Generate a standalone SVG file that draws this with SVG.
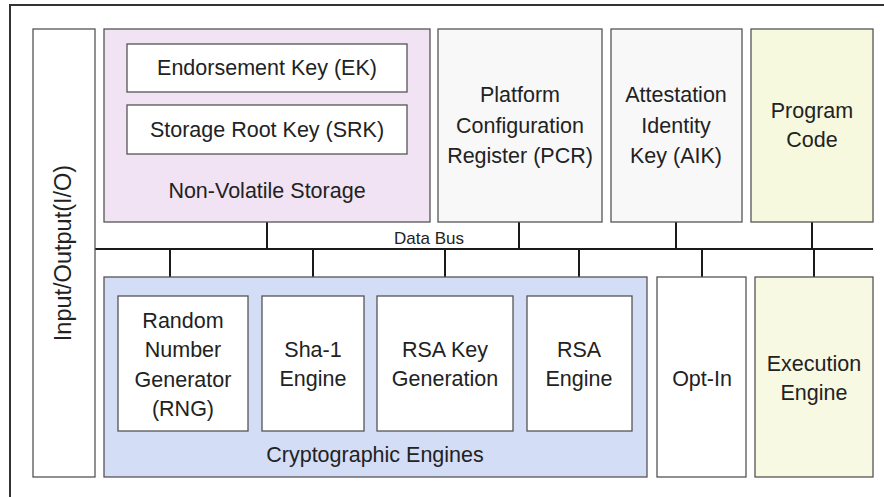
<svg xmlns="http://www.w3.org/2000/svg" width="884" height="497" viewBox="0 0 884 497">
  <style>
    .box { stroke: #555; stroke-width: 1.3; }
    .wire { stroke: #1a1a1a; stroke-width: 2; fill: none; }
    text { font-family: "Liberation Sans", Arial, sans-serif; font-size: 21.5px; fill: #222; text-anchor: middle; }
    .small { font-size: 17px; }
  </style>

  <!-- outer frame (runs off the right and bottom edges) -->
  <rect x="10" y="5" width="900" height="520" fill="#ffffff" stroke="#333" stroke-width="2"/>

  <!-- connectors: data bus and taps -->
  <g id="connectors">
    <line class="wire" x1="95" y1="249" x2="873" y2="249"/>
    <line class="wire" x1="267" y1="222" x2="267" y2="249"/>
    <line class="wire" x1="519" y1="222" x2="519" y2="249"/>
    <line class="wire" x1="676" y1="222" x2="676" y2="249"/>
    <line class="wire" x1="812" y1="222" x2="812" y2="249"/>
    <line class="wire" x1="170" y1="249" x2="170" y2="296"/>
    <line class="wire" x1="313" y1="249" x2="313" y2="296"/>
    <line class="wire" x1="445" y1="249" x2="445" y2="296"/>
    <line class="wire" x1="579" y1="249" x2="579" y2="296"/>
    <line class="wire" x1="702" y1="249" x2="702" y2="277"/>
    <line class="wire" x1="814" y1="249" x2="814" y2="277"/>
    <text class="small" x="429" y="244">Data Bus</text>
  </g>

  <g id="io">
    <rect class="box" x="33" y="29" width="62" height="448" fill="#ffffff"/>
    <text transform="translate(71,253) rotate(-90)" style="font-size:23.5px">Input/Output(I/O)</text>
  </g>

  <g id="nv-storage">
    <rect class="box" x="104" y="29" width="326" height="193" fill="#f1e3f3"/>
    <text x="267" y="198">Non-Volatile Storage</text>
  </g>
  <g id="ek">
    <rect class="box" x="127" y="44" width="280" height="48" fill="#ffffff"/>
    <text x="267" y="75">Endorsement Key (EK)</text>
  </g>
  <g id="srk">
    <rect class="box" x="127" y="105" width="280" height="49" fill="#ffffff"/>
    <text x="267" y="137">Storage Root Key (SRK)</text>
  </g>

  <g id="pcr">
    <rect class="box" x="438" y="29" width="164" height="193" fill="#f8f8f9"/>
    <text x="520" y="102">Platform</text>
    <text x="520" y="133">Configuration</text>
    <text x="520" y="163">Register (PCR)</text>
  </g>
  <g id="aik">
    <rect class="box" x="611" y="29" width="131" height="193" fill="#f8f8f9"/>
    <text x="676" y="102">Attestation</text>
    <text x="676" y="133">Identity</text>
    <text x="676" y="163">Key (AIK)</text>
  </g>
  <g id="program-code">
    <rect class="box" x="751" y="29" width="122" height="193" fill="#f7f9df"/>
    <text x="812" y="118">Program</text>
    <text x="812" y="147">Code</text>
  </g>

  <g id="crypto-engines">
    <rect class="box" x="104" y="277" width="543" height="200" fill="#d3ddf6"/>
    <text x="375" y="462">Cryptographic Engines</text>
  </g>
  <g id="rng">
    <rect class="box" x="118" y="296" width="130" height="135" fill="#ffffff"/>
    <text x="183" y="328">Random</text>
    <text x="183" y="357">Number</text>
    <text x="183" y="387">Generator</text>
    <text x="183" y="416">(RNG)</text>
  </g>
  <g id="sha1">
    <rect class="box" x="262" y="296" width="102" height="135" fill="#ffffff"/>
    <text x="313" y="357">Sha-1</text>
    <text x="313" y="386">Engine</text>
  </g>
  <g id="rsa-keygen">
    <rect class="box" x="377" y="296" width="136" height="135" fill="#ffffff"/>
    <text x="445" y="357">RSA Key</text>
    <text x="445" y="386">Generation</text>
  </g>
  <g id="rsa-engine">
    <rect class="box" x="527" y="296" width="105" height="135" fill="#ffffff"/>
    <text x="579" y="357">RSA</text>
    <text x="579" y="386">Engine</text>
  </g>

  <g id="opt-in">
    <rect class="box" x="657" y="277" width="89" height="200" fill="#ffffff"/>
    <text x="702" y="386">Opt-In</text>
  </g>
  <g id="execution-engine">
    <rect class="box" x="755" y="277" width="118" height="200" fill="#f8f9e2"/>
    <text x="814" y="371">Execution</text>
    <text x="814" y="400">Engine</text>
  </g>
</svg>
